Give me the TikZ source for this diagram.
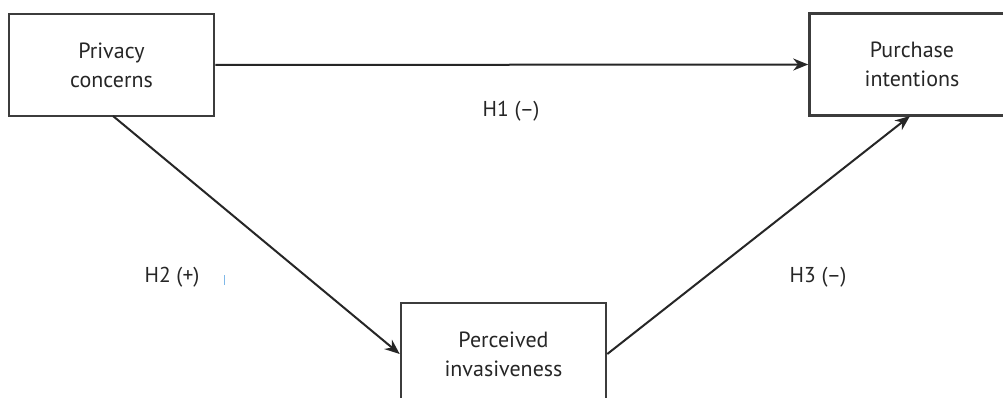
\documentclass[tikz,border=0pt]{standalone}
\usepackage{fontspec}
\setmainfont{PT Sans}
\usetikzlibrary{arrows.meta}
\definecolor{boxgray}{HTML}{3C3C3C}
\definecolor{tickblue}{HTML}{7FB8E8}
\tikzset{
  box/.style={draw=boxgray, line width=2.6pt, minimum width=205pt, minimum height=102pt,
    inner sep=0pt, align=center, text=black!85, font=\fontsize{22}{29}\selectfont},
  link/.style={draw=black!85, line width=2pt, -{Stealth[length=15pt,width=12pt]}},
  lab/.style={text=black!85, font=\fontsize{21.5}{24}\selectfont}
}
\begin{document}
\begin{tikzpicture}[x=1pt,y=-1pt]
\useasboundingbox (0,0) rectangle (1003,398);
\clip (0,0) rectangle (1003,398);
\fill[white] (0,0) rectangle (1003,398);
\node[box] (pc) at (111.5,65) {Privacy\\concerns};
\node[box] (pi) at (912,64.5) {Purchase\\intentions};
\node[box] (inv) at (503.5,354) {Perceived\\invasiveness};
\coordinate (s2) at (113,116);
\coordinate (e3) at (910,116);
\draw[link] (pc.east) -- (pi.west);
\draw[link] (s2) -- (inv.west);
\draw[link] (inv.east) -- (e3);
\node[lab] (h1) at (511,111) {H1 (–)};
\node[lab] (h2) at (172,277) {H2 (+)};
\node[lab] (h3) at (818,277) {H3 (–)};
\draw[tickblue, line width=0.9pt] (224,275) -- (224,285);
\end{tikzpicture}
\end{document}
